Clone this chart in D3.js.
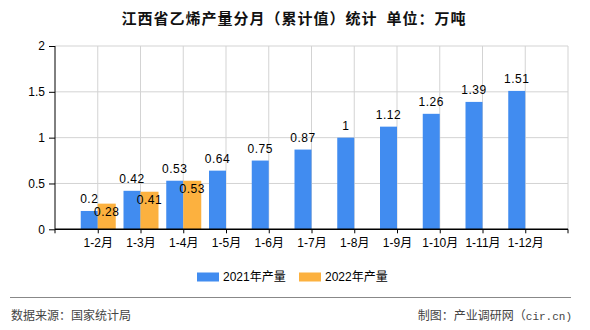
<!DOCTYPE html>
<html><head><meta charset="utf-8">
<script src="https://cdn.jsdelivr.net/npm/d3@7"></script>
<style>
body{margin:0;background:#fff;}
text{font-family:"Liberation Sans","Noto Sans CJK SC",sans-serif;}
</style></head>
<body><svg id="c" width="590" height="330"></svg>
<script>
const categories = ["1-2月","1-3月","1-4月","1-5月","1-6月","1-7月","1-8月","1-9月","1-10月","1-11月","1-12月"];
const values2021 = [0.2,0.42,0.53,0.64,0.75,0.87,1,1.12,1.26,1.39,1.51];
const values2022 = [0.28,0.41,0.53];
const seriesNames = ["2021年产量","2022年产量"];
const yTicks = [0,0.5,1,1.5,2];
const title = "江西省乙烯产量分月（累计值）统计  单位：万吨";
const source = "数据来源：国家统计局";
const creditCn = "制图：产业调研网（";
const creditEn = "cir.cn)";

const colors = ["#418cf0","#fcb13f"];
const L=55, R=568, T=46, B=229.3;
const svg = d3.select("#c");
const cell = (R-L)/12;
const x = d3.scalePoint().domain(categories).range([L+cell, R-cell]);
const y = d3.scaleLinear().domain([0,2]).range([B,T]);
const bw = 17;

// title
svg.append("text").attr("x",294).attr("y",23.5).attr("text-anchor","middle")
  .style("font-family","'Noto Sans CJK SC',sans-serif").style("font-size","15px").style("font-weight","bold")
  .style("letter-spacing","1px").style("white-space","pre").attr("fill","#111").text(title);

const grid = svg.append("g");
grid.selectAll("line.h").data(yTicks.filter(d=>d>0)).join("line")
  .attr("x1",L).attr("x2",R).attr("y1",d=>y(d)).attr("y2",d=>y(d))
  .attr("stroke","#d3d3d3").attr("stroke-width",1);
grid.selectAll("line.v").data(categories).join("line")
  .attr("x1",d=>x(d)).attr("x2",d=>x(d)).attr("y1",T).attr("y2",B)
  .attr("stroke","#d3d3d3");
grid.append("line").attr("x1",R).attr("x2",R).attr("y1",T).attr("y2",B).attr("stroke","#d3d3d3");

// bars
svg.append("g").selectAll("rect").data(values2021).join("rect")
  .attr("x",(d,i)=>x(categories[i])-bw).attr("width",bw)
  .attr("y",d=>y(d)).attr("height",d=>B-y(d)).attr("fill",colors[0]);
svg.append("g").selectAll("rect").data(values2022).join("rect")
  .attr("x",(d,i)=>x(categories[i])).attr("width",bw+1)
  .attr("y",d=>y(d)).attr("height",d=>B-y(d)).attr("fill",colors[1]);

// y axis
const ya = svg.append("g").attr("transform",`translate(${L},0)`)
  .call(d3.axisLeft(y).tickValues(yTicks).tickFormat(d=>String(d)).tickSize(6).tickPadding(4));
ya.select(".domain").attr("stroke","#000").attr("d",`M0,${T}V${B}`);
ya.selectAll(".tick line").attr("stroke","#000");
ya.selectAll(".tick text").style("font-size","12px").attr("fill","#000");

// x axis
const xa = svg.append("g").attr("transform",`translate(0,${B})`)
  .call(d3.axisBottom(x).tickSize(4).tickPadding(5));
xa.select(".domain").remove();
xa.append("line").attr("x1",L).attr("x2",R).attr("stroke","#000").attr("stroke-width",1.5);
xa.append("line").attr("x1",L).attr("x2",L).attr("y2",4).attr("stroke","#000");
xa.append("line").attr("x1",R).attr("x2",R).attr("y2",4).attr("stroke","#000");
xa.selectAll(".tick line").attr("stroke","#000");
xa.selectAll(".tick text").style("font-size","12px").attr("fill","#000");

// labels
svg.append("g").selectAll("text").data(values2021).join("text")
  .attr("x",(d,i)=>x(categories[i])-bw/2).attr("y",d=>y(d)-8)
  .attr("text-anchor","middle").style("font-size","12px").style("letter-spacing","0.5px").attr("fill","#000").text(d=>d);
svg.append("g").selectAll("text").data(values2022).join("text")
  .attr("x",(d,i)=>x(categories[i])+bw/2+0.5).attr("y",d=>y(d)+12.5)
  .attr("text-anchor","middle").style("font-size","12px").style("letter-spacing","0.5px").attr("fill","#000").text(d=>d);

// legend
const lg = svg.append("g");
const lx = [197, 299];
seriesNames.forEach((n,i)=>{
  lg.append("rect").attr("x",lx[i]).attr("y",272.5).attr("width",22).attr("height",9).attr("fill",colors[i]);
  lg.append("text").attr("x",lx[i]+26).attr("y",281).style("font-size","12px").attr("fill","#000").text(n);
});

// footer
svg.append("line").attr("x1",10).attr("x2",571).attr("y1",297.5).attr("y2",297.5).attr("stroke","#888").attr("stroke-width",1);
svg.append("text").attr("x",11).attr("y",319.5).style("font-size","12px").attr("fill","#444")
  .style("font-family","'Noto Sans CJK SC',sans-serif").text(source);
const ct = svg.append("text").attr("x",572).attr("y",319.5).attr("text-anchor","end").style("font-size","12px").attr("fill","#444");
ct.append("tspan").style("font-family","'Noto Sans CJK SC',sans-serif").text(creditCn);
ct.append("tspan").style("font-family","'Liberation Mono',monospace").style("font-size","11px").text(creditEn);
</script></body></html>
